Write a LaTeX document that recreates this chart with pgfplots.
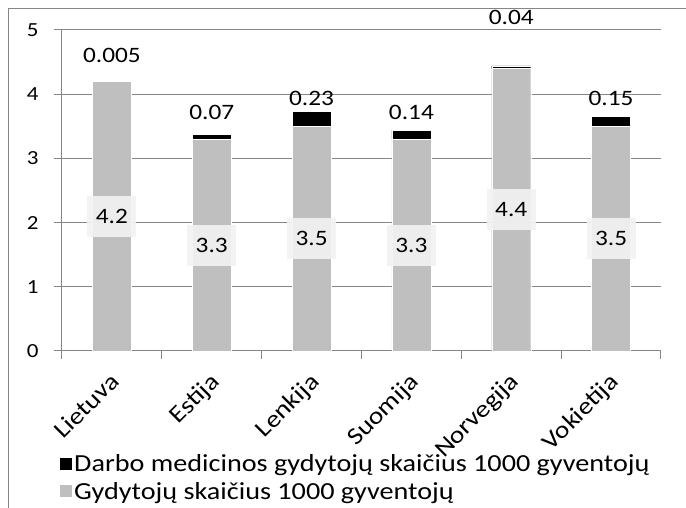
\documentclass[border=0pt]{standalone}
\usepackage{pgfplots}
\pgfplotsset{compat=1.18}
\usepackage{fontspec}
\setmainfont{Carlito}[FakeStretch=1.15]
\definecolor{barg}{HTML}{BFBFBF}
\definecolor{gridg}{HTML}{868686}
\definecolor{lblbg}{HTML}{F2F2F2}
\pgfplotsset{frame/.style={at={(62pt,157pt)}, anchor=south west,
  scale only axis, width=599pt, height=321pt,
  xmin=-0.5, xmax=5.5, ymin=0, ymax=5, clip=false}}
\begin{document}
\begin{tikzpicture}[x=1pt,y=1pt]
\path[use as bounding box] (0,0) rectangle (686,508);
\draw[gridg, line width=1pt] (8,0) -- (8,499) -- (686,499);
\begin{axis}[
  frame,
  ybar stacked, bar width=39pt,
  xtick={-0.5,0.5,...,5.5}, xticklabels={},
  extra x ticks={0,1,2,3,4,5},
  extra x tick labels={Lietuva,Estija,Lenkija,Suomija,Norvegija,Vokietija},
  extra x tick style={major tick length=0pt},
  x tick label style={xshift=-3pt, yshift=-20pt, rotate=45, anchor=north east, inner sep=0pt, font=\fontsize{24}{28}\selectfont},
  ytick={0,1,2,3,4,5},
  ymajorgrids, grid style={gridg, line width=1pt},
  axis lines*=left, axis line style={gridg, line width=1pt},
  tick align=outside, major tick length=8pt, tick style={gridg, line width=1pt},
  y tick label style={font=\fontsize{20}{24}\selectfont, xshift=-12pt},
  /pgf/number format/assume math mode=true,
  reverse legend,
  legend cell align=left,
  legend style={at={(-0.0033,-0.316)}, anchor=north west, draw=none, fill=none,
    inner sep=0pt, row sep=5pt, font=\fontsize{24.5}{29}\selectfont},
  legend image code/.code={\fill[#1, draw=none] (0pt,-6pt) rectangle (12pt,6pt);},
]
\addplot[fill=barg, draw=white] coordinates {(0,4.2) (1,3.3) (2,3.5) (3,3.3) (4,4.4) (5,3.5)};
\addlegendentry{Gydytojų skaičius 1000 gyventojų}
\addplot[fill=black, draw=white] coordinates {(0,0.005) (1,0.07) (2,0.23) (3,0.14) (4,0.04) (5,0.15)};
\addlegendentry{Darbo medicinos gydytojų skaičius 1000 gyventojų}
\end{axis}
\begin{axis}[frame, hide axis]
\addplot[draw=none, mark=none, nodes near coords, point meta=explicit symbolic,
  every node near coord/.style={anchor=center, fill=lblbg, fill opacity=0.9, text opacity=1,
    minimum width=49pt, minimum height=41pt, inner sep=0pt, font=\fontsize{22}{26}\selectfont}]
  coordinates {(0,2.1)[4.2] (1,1.65)[3.3] (2,1.75)[3.5] (3,1.65)[3.3] (4,2.2)[4.4] (5,1.75)[3.5]};
\addplot[draw=none, mark=none, nodes near coords, point meta=explicit symbolic,
  every node near coord/.style={anchor=center, inner sep=0pt, font=\fontsize{22}{26}\selectfont}]
  coordinates {(0,4.6)[0.005] (1,3.71)[0.07] (2,3.93)[0.23] (3,3.72)[0.14] (4,5.19)[0.04] (5,3.94)[0.15]};
\end{axis}
\end{tikzpicture}
\end{document}
